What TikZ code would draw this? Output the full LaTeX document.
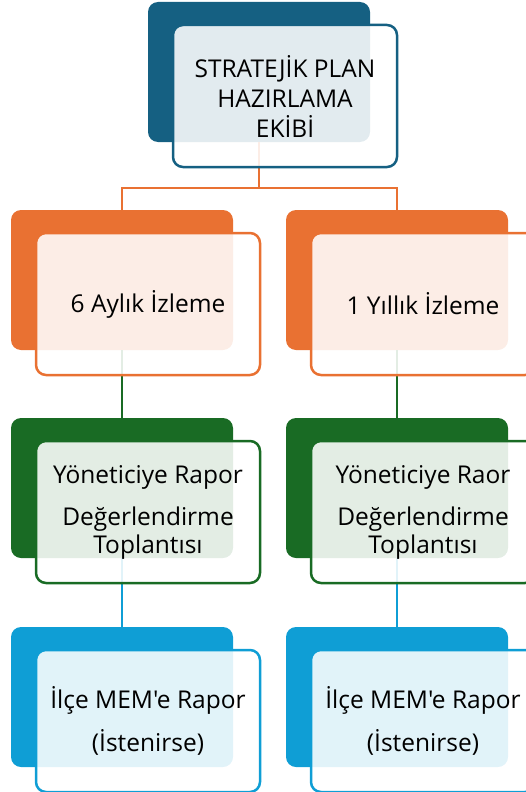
\documentclass[tikz,border=0pt]{standalone}
\usepackage{fontspec}
\setmainfont{Open Sans}[Ligatures=TeXOff]
\usetikzlibrary{positioning}

\definecolor{planteal}{HTML}{156082}
\definecolor{izleorange}{HTML}{E97132}
\definecolor{raporgreen}{HTML}{196B24}
\definecolor{memblue}{HTML}{0F9ED5}

\begin{document}
\begin{tikzpicture}[x=1pt,y=-1pt,
    backbox/.style={rectangle, rounded corners=10pt, minimum width=222pt, minimum height=140pt, inner sep=0pt, fill=#1},
    frontbox/.style={rectangle, rounded corners=10pt, minimum width=224pt, minimum height=142pt, inner sep=0pt,
        draw=#1, line width=2.5pt, fill=white, fill opacity=0.88, text opacity=1, align=center,
        font=\fontsize{24.5}{30}\selectfont},
    link/.style={draw=#1, line width=2.5pt}]

    \useasboundingbox (0,0) rectangle (525,792);

    % back boxes
    \node[backbox=planteal] (planB) at (259,72) {};
\foreach \c/\x in {L/122, R/397}
{
    \node[backbox=izleorange] (izleB\c) at (\x,280) {};
    \node[backbox=raporgreen] (toplB\c) at (\x,488) {};
    \node[backbox=memblue] (memB\c) at (\x,697) {};
}

    % connectors
    \coordinate (split) at (259,188);
    \draw[link=izleorange] (planB.south) -- (split) -| (izleBL.north);
    \draw[link=izleorange] (split) -| (izleBR.north);
\foreach \c in {L,R}
{
    \draw[link=raporgreen] (izleB\c.south) -- (toplB\c.north);
    \draw[link=memblue] (toplB\c.south) -- (memB\c.north);
}

    % front boxes
    \node[frontbox=planteal] (plan) at ([shift={(26,24)}]planB) {STRATEJİK PLAN\\HAZIRLAMA\\EKİBİ};
\foreach \c/\izl/\rap in {L/6 Aylık İzleme/Rapor, R/1 Yıllık İzleme/Raor}
{
    \node[frontbox=izleorange] (izle\c) at ([shift={(26,24)}]izleB\c) {\izl};
    \node[frontbox=raporgreen] (topl\c) at ([shift={(26,24)}]toplB\c) {Yöneticiye \rap\\[12pt]Değerlendirme\\[-2pt]Toplantısı};
    \node[frontbox=memblue] (mem\c) at ([shift={(26,24)}]memB\c) {İlçe MEM'e Rapor\\[13pt](İstenirse)};
}

\end{tikzpicture}
\end{document}
